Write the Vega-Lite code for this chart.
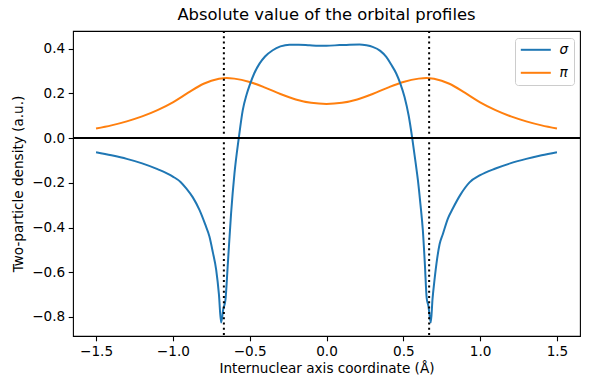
{
  "$schema": "https://vega.github.io/schema/vega-lite/v6.json",
  "width": 507,
  "height": 305,
  "autosize": {"type": "none"},
  "padding": {"left": 73, "top": 31, "right": 9, "bottom": 54},
  "background": "white",
  "config": {
    "font": "DejaVu Sans",
    "view": {"stroke": "black", "strokeWidth": 1.1},
    "axis": {
      "grid": false,
      "domain": false,
      "tickColor": "black",
      "tickSize": 4.8,
      "tickWidth": 1.1,
      "labelColor": "black",
      "labelFont": "DejaVu Sans",
      "labelFontSize": 13.6,
      "labelPadding": 3.5,
      "titleFont": "DejaVu Sans",
      "titleFontSize": 13.6,
      "titleFontWeight": "normal",
      "titleColor": "black"
    },
    "title": {"font": "DejaVu Sans", "fontSize": 16.4, "fontWeight": "normal", "color": "black", "offset": 7}
  },
  "title": {"text": "Absolute value of the orbital profiles"},
  "datasets": {
    "curves": [
      {"x": -1.5, "y": 0.043, "s": "π"}, {"x": -1.4, "y": 0.057, "s": "π"}, {"x": -1.3, "y": 0.075, "s": "π"}, {"x": -1.2, "y": 0.097, "s": "π"}, {"x": -1.1, "y": 0.125, "s": "π"}, {"x": -1.0, "y": 0.16, "s": "π"}, {"x": -0.9, "y": 0.203, "s": "π"}, {"x": -0.8, "y": 0.243, "s": "π"}, {"x": -0.7, "y": 0.265, "s": "π"}, {"x": -0.65, "y": 0.269, "s": "π"}, {"x": -0.6, "y": 0.266, "s": "π"}, {"x": -0.5, "y": 0.251, "s": "π"}, {"x": -0.4, "y": 0.226, "s": "π"}, {"x": -0.3, "y": 0.197, "s": "π"}, {"x": -0.2, "y": 0.173, "s": "π"}, {"x": -0.1, "y": 0.158, "s": "π"}, {"x": 0.0, "y": 0.153, "s": "π"}, {"x": 0.1, "y": 0.158, "s": "π"}, {"x": 0.2, "y": 0.173, "s": "π"}, {"x": 0.3, "y": 0.197, "s": "π"}, {"x": 0.4, "y": 0.226, "s": "π"}, {"x": 0.5, "y": 0.251, "s": "π"}, {"x": 0.6, "y": 0.266, "s": "π"}, {"x": 0.65, "y": 0.269, "s": "π"}, {"x": 0.7, "y": 0.265, "s": "π"}, {"x": 0.8, "y": 0.243, "s": "π"}, {"x": 0.9, "y": 0.203, "s": "π"}, {"x": 1.0, "y": 0.16, "s": "π"}, {"x": 1.1, "y": 0.125, "s": "π"}, {"x": 1.2, "y": 0.097, "s": "π"}, {"x": 1.3, "y": 0.075, "s": "π"}, {"x": 1.4, "y": 0.057, "s": "π"}, {"x": 1.5, "y": 0.043, "s": "π"},
      {"x": -1.5, "y": -0.063, "s": "σ"}, {"x": -1.4, "y": -0.077, "s": "σ"}, {"x": -1.3, "y": -0.093, "s": "σ"}, {"x": -1.2, "y": -0.113, "s": "σ"}, {"x": -1.1, "y": -0.139, "s": "σ"}, {"x": -1.0, "y": -0.172, "s": "σ"}, {"x": -0.95, "y": -0.196, "s": "σ"}, {"x": -0.913, "y": -0.225, "s": "σ"}, {"x": -0.87, "y": -0.265, "s": "σ"}, {"x": -0.827, "y": -0.321, "s": "σ"}, {"x": -0.79, "y": -0.385, "s": "σ"}, {"x": -0.762, "y": -0.44, "s": "σ"}, {"x": -0.74, "y": -0.51, "s": "σ"}, {"x": -0.718, "y": -0.589, "s": "σ"}, {"x": -0.70, "y": -0.70, "s": "σ"}, {"x": -0.686, "y": -0.825, "s": "σ"}, {"x": -0.672, "y": -0.765, "s": "σ"}, {"x": -0.658, "y": -0.725, "s": "σ"}, {"x": -0.642, "y": -0.56, "s": "σ"}, {"x": -0.621, "y": -0.336, "s": "σ"}, {"x": -0.599, "y": -0.158, "s": "σ"}, {"x": -0.571, "y": 0.0, "s": "σ"}, {"x": -0.545, "y": 0.125, "s": "σ"}, {"x": -0.52, "y": 0.195, "s": "σ"}, {"x": -0.50, "y": 0.237, "s": "σ"}, {"x": -0.47, "y": 0.29, "s": "σ"}, {"x": -0.436, "y": 0.333, "s": "σ"}, {"x": -0.40, "y": 0.365, "s": "σ"}, {"x": -0.35, "y": 0.393, "s": "σ"}, {"x": -0.30, "y": 0.41, "s": "σ"}, {"x": -0.241, "y": 0.418, "s": "σ"}, {"x": -0.18, "y": 0.418, "s": "σ"}, {"x": -0.11, "y": 0.415, "s": "σ"}, {"x": -0.05, "y": 0.413, "s": "σ"}, {"x": 0.0, "y": 0.413, "s": "σ"}, {"x": 0.085, "y": 0.416, "s": "σ"}, {"x": 0.15, "y": 0.418, "s": "σ"}, {"x": 0.215, "y": 0.419, "s": "σ"}, {"x": 0.26, "y": 0.415, "s": "σ"}, {"x": 0.30, "y": 0.408, "s": "σ"}, {"x": 0.35, "y": 0.39, "s": "σ"}, {"x": 0.389, "y": 0.363, "s": "σ"}, {"x": 0.42, "y": 0.33, "s": "σ"}, {"x": 0.454, "y": 0.289, "s": "σ"}, {"x": 0.48, "y": 0.245, "s": "σ"}, {"x": 0.508, "y": 0.184, "s": "σ"}, {"x": 0.535, "y": 0.1, "s": "σ"}, {"x": 0.558, "y": 0.0, "s": "σ"}, {"x": 0.58, "y": -0.11, "s": "σ"}, {"x": 0.595, "y": -0.188, "s": "σ"}, {"x": 0.612, "y": -0.3, "s": "σ"}, {"x": 0.627, "y": -0.411, "s": "σ"}, {"x": 0.64, "y": -0.56, "s": "σ"}, {"x": 0.652, "y": -0.715, "s": "σ"}, {"x": 0.663, "y": -0.75, "s": "σ"}, {"x": 0.679, "y": -0.825, "s": "σ"}, {"x": 0.69, "y": -0.72, "s": "σ"}, {"x": 0.703, "y": -0.634, "s": "σ"}, {"x": 0.72, "y": -0.54, "s": "σ"}, {"x": 0.736, "y": -0.475, "s": "σ"}, {"x": 0.757, "y": -0.43, "s": "σ"}, {"x": 0.79, "y": -0.36, "s": "σ"}, {"x": 0.822, "y": -0.315, "s": "σ"}, {"x": 0.87, "y": -0.255, "s": "σ"}, {"x": 0.931, "y": -0.198, "s": "σ"}, {"x": 1.0, "y": -0.166, "s": "σ"}, {"x": 1.1, "y": -0.136, "s": "σ"}, {"x": 1.2, "y": -0.112, "s": "σ"}, {"x": 1.3, "y": -0.093, "s": "σ"}, {"x": 1.4, "y": -0.077, "s": "σ"}, {"x": 1.5, "y": -0.063, "s": "σ"}
    ],
    "hline": [{"y": 0}],
    "vlines": [{"x": -0.668}, {"x": 0.668}]
  },
  "layer": [
    {
      "data": {"name": "curves"},
      "mark": {"type": "line", "strokeWidth": 2, "interpolate": "monotone"},
      "encoding": {
        "x": {"field": "x", "type": "quantitative", "scale": {"domain": [-1.65, 1.65], "nice": false, "zero": false},
              "axis": {"values": [-1.5, -1.0, -0.5, 0.0, 0.5, 1.0, 1.5], "format": ".1f", "title": "Internuclear axis coordinate (Å)", "titlePadding": 4}},
        "y": {"field": "y", "type": "quantitative", "scale": {"domain": [-0.885, 0.479], "nice": false, "zero": false},
              "axis": {"values": [-0.8, -0.6, -0.4, -0.2, 0.0, 0.2, 0.4], "format": ".1f", "title": "Two-particle density (a.u.)", "titlePadding": 6}},
        "color": {"field": "s", "type": "nominal",
                  "scale": {"domain": ["σ", "π"], "range": ["#1f77b4", "#ff7f0e"]},
                  "legend": {"title": null, "orient": "none", "legendX": 442, "legendY": 7,
                             "symbolType": "M-3,0H3", "symbolSize": 100, "symbolStrokeWidth": 2, "symbolOffset": 9,
                             "labelFontSize": 13.6, "labelFontStyle": "italic", "labelColor": "black", "labelOffset": 17,
                             "fillColor": "rgba(255,255,255,0.8)", "strokeColor": "#cccccc", "cornerRadius": 3,
                             "padding": 5, "rowPadding": 8}},
        "order": {"value": 0}
      }
    },
    {
      "data": {"name": "hline"},
      "mark": {"type": "rule", "color": "black", "strokeWidth": 2},
      "encoding": {"y": {"field": "y", "type": "quantitative"}}
    },
    {
      "data": {"name": "vlines"},
      "mark": {"type": "rule", "color": "black", "strokeWidth": 2, "strokeDash": [2, 3.3]},
      "encoding": {"x": {"field": "x", "type": "quantitative"}}
    }
  ]
}
